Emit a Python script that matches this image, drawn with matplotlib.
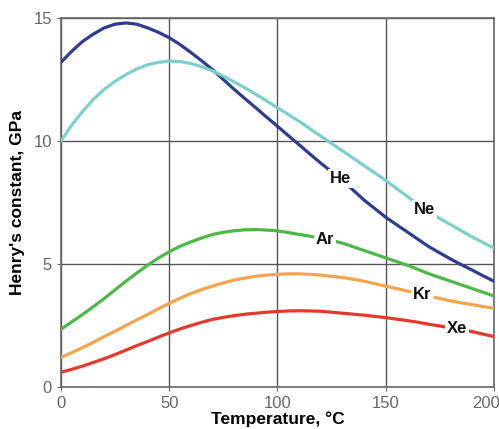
import matplotlib
matplotlib.use('Agg')
import matplotlib.pyplot as plt
import matplotlib.transforms as mtrans
import numpy as np

plt.rcParams['font.family'] = ['Liberation Sans', 'DejaVu Sans']

# temperature grid, deg C
temp = list(range(0, 201, 5))

# Henry's constant, GPa
he = [13.2, 13.65, 14.05, 14.35, 14.6, 14.75, 14.8, 14.75, 14.6, 14.42, 14.2,
      13.92, 13.6, 13.26, 12.9, 12.5, 12.1, 11.72, 11.35, 10.97, 10.6,
      10.22, 9.85, 9.47, 9.1, 8.75, 8.4, 8.0, 7.6, 7.25, 6.9,
      6.6, 6.3, 6.0, 5.7, 5.45, 5.2, 4.97, 4.75, 4.52, 4.3]
ne = [10.0, 10.65, 11.2, 11.7, 12.1, 12.43, 12.7, 12.93, 13.1, 13.2, 13.25,
      13.23, 13.15, 13.02, 12.85, 12.64, 12.4, 12.16, 11.9, 11.63, 11.35,
      11.08, 10.8, 10.5, 10.2, 9.9, 9.6, 9.3, 9.0, 8.7, 8.4,
      8.07, 7.75, 7.42, 7.1, 6.85, 6.6, 6.35, 6.1, 5.87, 5.65]
ar = [2.35, 2.65, 2.95, 3.27, 3.6, 3.95, 4.3, 4.63, 4.95, 5.24, 5.5,
      5.72, 5.9, 6.06, 6.2, 6.29, 6.35, 6.39, 6.4, 6.38, 6.35,
      6.28, 6.2, 6.13, 6.05, 5.96, 5.85, 5.7, 5.55, 5.4, 5.25,
      5.1, 4.95, 4.78, 4.6, 4.45, 4.3, 4.15, 4.0, 3.85, 3.7]
kr = [1.2, 1.4, 1.6, 1.82, 2.05, 2.27, 2.5, 2.73, 2.95, 3.18, 3.4,
      3.61, 3.8, 3.96, 4.1, 4.23, 4.35, 4.43, 4.5, 4.55, 4.58,
      4.6, 4.6, 4.58, 4.55, 4.5, 4.45, 4.38, 4.3, 4.2, 4.1,
      4.0, 3.9, 3.8, 3.7, 3.6, 3.5, 3.42, 3.35, 3.27, 3.2]
xe = [0.6, 0.72, 0.85, 1.0, 1.15, 1.32, 1.5, 1.68, 1.85, 2.03, 2.2,
      2.36, 2.5, 2.63, 2.75, 2.83, 2.9, 2.96, 3.0, 3.04, 3.07,
      3.09, 3.1, 3.09, 3.08, 3.04, 3.0, 2.96, 2.92, 2.87, 2.82,
      2.76, 2.7, 2.63, 2.55, 2.48, 2.4, 2.33, 2.25, 2.15, 2.05]

gases = ['He', 'Ne', 'Ar', 'Kr', 'Xe']
series = [he, ne, ar, kr, xe]
colors = ['#2e3d8f', '#7dcfcb', '#4db848', '#f5a34d', '#e33a2c']
# where the name sits on each curve (temperature)
label_t = [129, 168, 122, 167, 183]

fig = plt.figure(figsize=(4.99, 4.29), dpi=100)
ax = fig.add_axes([0.1222, 0.0979, 0.8677, 0.8601])

for name, vals, c, lt in zip(gases, series, colors, label_t):
    ax.plot(temp, vals, color=c, lw=2.3, solid_capstyle='round',
            solid_joinstyle='round', zorder=3)
    yv = np.interp(lt, temp, vals)
    ax.text(lt, yv, name, fontsize=12, fontweight='bold', color='#111111',
            ha='center', va='center', zorder=4,
            bbox=dict(facecolor='white', edgecolor='none', pad=1.5))

ax.set_xlim(0, 200)
ax.set_ylim(0, 15)
ax.set_xticks([0, 50, 100, 150, 200])
ax.set_yticks([0, 5, 10, 15])
ax.grid(True, color='#555555', lw=1.0)
ax.set_axisbelow(True)
for s in ax.spines.values():
    s.set_color('#666666')
    s.set_linewidth(1.2)
ax.tick_params(colors='#666666', labelsize=12, length=3, labelcolor='#666666')

# last x label sits at the right edge; nudge it in so it stays on the canvas
last = ax.get_xticklabels()[-1]
last.set_transform(last.get_transform() +
                   mtrans.ScaledTranslation(-8 / 100, 0, fig.dpi_scale_trans))

ax.set_ylabel("Henry's constant, GPa", fontsize=12.5, fontweight='bold', labelpad=6)
ax.set_xlabel('Temperature, °C', fontsize=12.5, fontweight='bold', labelpad=0)

fig.savefig('out.png', dpi=100)
